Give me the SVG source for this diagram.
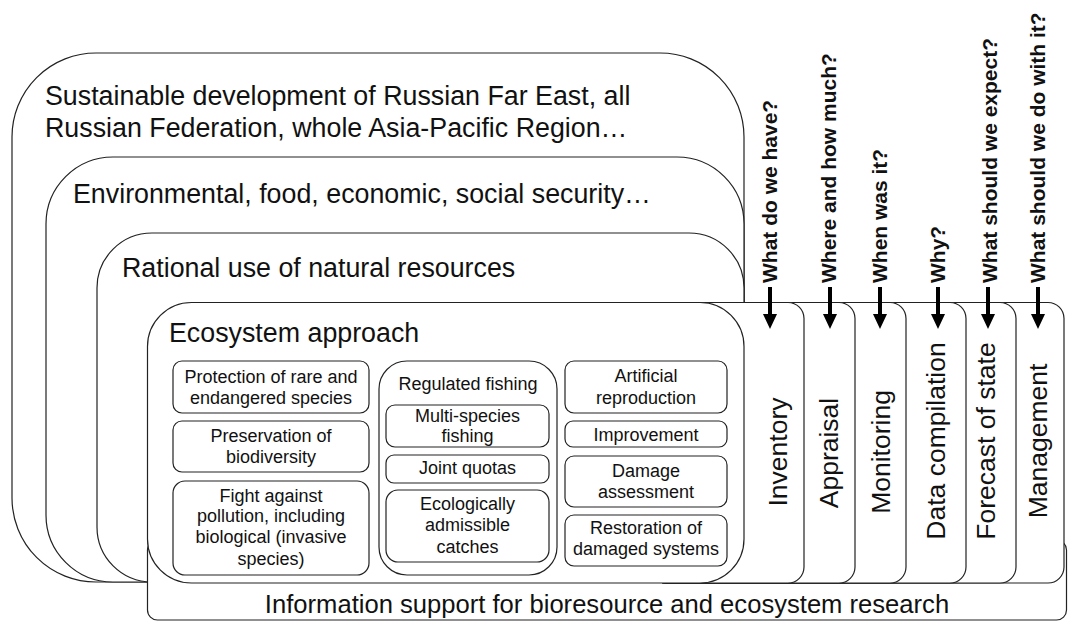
<svg xmlns="http://www.w3.org/2000/svg" width="1069" height="624" viewBox="0 0 1069 624">
<defs>
<style>
.frame{fill:#fff;stroke:#222;stroke-width:1.2}
.big{font-family:"Liberation Sans",Arial,sans-serif;font-size:26.8px;fill:#111}
.col{font-family:"Liberation Sans",Arial,sans-serif;font-size:26.5px;fill:#111;text-anchor:middle}
.q{font-family:"Liberation Sans",Arial,sans-serif;font-size:21px;font-weight:bold;fill:#111}
.sm{font-family:"Liberation Sans",Arial,sans-serif;font-size:18px;fill:#111;text-anchor:middle}
.arr{stroke:#000;stroke-width:4;fill:none;marker-end:url(#ah)}
</style>
<marker id="ah" viewBox="0 0 15 14" refX="0" refY="7" markerWidth="15" markerHeight="14" markerUnits="userSpaceOnUse" orient="auto">
<path d="M0,0 L15,7 L0,14 z" fill="#000"/>
</marker>
</defs>

<g id="level-sustainable">
<rect class="frame" x="12" y="53" width="732" height="529" rx="84" ry="84"/>
<text class="big" x="45" y="105">Sustainable development of Russian Far East, all</text>
<text class="big" x="45" y="137">Russian Federation, whole Asia-Pacific Region…</text>
</g>
<g id="level-security">
<rect class="frame" x="46" y="157" width="698" height="425" rx="67" ry="67"/>
<text class="big" x="73" y="203">Environmental, food, economic, social security…</text>
</g>
<g id="level-rational">
<rect class="frame" x="97" y="233" width="647" height="349" rx="55" ry="55"/>
<text class="big" x="122" y="277">Rational use of natural resources</text>
</g>

<g id="information-support">
<rect class="frame" x="147.5" y="540" width="919" height="80" rx="10" ry="10"/>
<text class="big" x="607" y="613" text-anchor="middle" style="font-size:25.6px">Information support for bioresource and ecosystem research</text>
</g>

<g id="col-management">
<rect class="frame" x="650" y="302.5" width="414" height="280.5" rx="16" ry="16"/>
<text class="col" transform="translate(1047,441) rotate(-90)">Management</text>
</g>
<g id="col-forecast">
<rect class="frame" x="650" y="302.5" width="366" height="280.5" rx="16" ry="16"/>
<text class="col" transform="translate(995,441) rotate(-90)">Forecast of state</text>
</g>
<g id="col-data">
<rect class="frame" x="650" y="302.5" width="316" height="280.5" rx="16" ry="16"/>
<text class="col" transform="translate(945,441) rotate(-90)">Data compilation</text>
</g>
<g id="col-monitoring">
<rect class="frame" x="650" y="302.5" width="256" height="280.5" rx="16" ry="16"/>
<text class="col" transform="translate(890,452) rotate(-90)">Monitoring</text>
</g>
<g id="col-appraisal">
<rect class="frame" x="650" y="302.5" width="205" height="280.5" rx="16" ry="16"/>
<text class="col" transform="translate(838,453) rotate(-90)">Appraisal</text>
</g>
<g id="col-inventory">
<rect class="frame" x="650" y="302.5" width="154" height="280.5" rx="16" ry="16"/>
<text class="col" transform="translate(787,452) rotate(-90)">Inventory</text>
</g>

<g id="ecosystem-approach">
<rect class="frame" x="147.5" y="302.5" width="596.5" height="280.5" rx="44" ry="44"/>
<text class="big" x="169" y="342">Ecosystem approach</text>
</g>

<g id="protection">
<rect class="frame" x="173" y="361" width="196" height="52" rx="9"/>
<text class="sm" x="271" y="383">Protection of rare and</text>
<text class="sm" x="271" y="404">endangered species</text>
</g>
<g id="preservation">
<rect class="frame" x="173" y="421" width="196" height="51" rx="9"/>
<text class="sm" x="271" y="442">Preservation of</text>
<text class="sm" x="271" y="463">biodiversity</text>
</g>
<g id="pollution">
<rect class="frame" x="173" y="481" width="196" height="94" rx="12"/>
<text class="sm" x="271" y="502">Fight against</text>
<text class="sm" x="271" y="522">pollution, including</text>
<text class="sm" x="271" y="543">biological (invasive</text>
<text class="sm" x="271" y="565">species)</text>
</g>

<g id="regulated-fishing">
<rect class="frame" x="379" y="361" width="178" height="214" rx="28"/>
<text class="sm" x="468" y="390">Regulated fishing</text>
</g>
<g id="multi-species">
<rect class="frame" x="386" y="405" width="163" height="42" rx="9"/>
<text class="sm" x="467.5" y="422">Multi-species</text>
<text class="sm" x="467.5" y="442">fishing</text>
</g>
<g id="joint-quotas">
<rect class="frame" x="386" y="455" width="163" height="28" rx="8"/>
<text class="sm" x="467.5" y="474">Joint quotas</text>
</g>
<g id="admissible-catches">
<rect class="frame" x="386" y="490" width="163" height="72" rx="12"/>
<text class="sm" x="467.5" y="510">Ecologically</text>
<text class="sm" x="467.5" y="531">admissible</text>
<text class="sm" x="467.5" y="553">catches</text>
</g>

<g id="artificial-reproduction">
<rect class="frame" x="565" y="361" width="162" height="52" rx="9"/>
<text class="sm" x="646" y="382">Artificial</text>
<text class="sm" x="646" y="404">reproduction</text>
</g>
<g id="improvement">
<rect class="frame" x="565" y="421" width="162" height="26" rx="8"/>
<text class="sm" x="646" y="441">Improvement</text>
</g>
<g id="damage-assessment">
<rect class="frame" x="565" y="456" width="162" height="51" rx="9"/>
<text class="sm" x="646" y="477">Damage</text>
<text class="sm" x="646" y="498">assessment</text>
</g>
<g id="restoration">
<rect class="frame" x="565" y="515" width="162" height="51" rx="9"/>
<text class="sm" x="646" y="534">Restoration of</text>
<text class="sm" x="646" y="555">damaged systems</text>
</g>

<g id="questions">
<text class="q" transform="translate(777,283) rotate(-90)">What do we have?</text>
<text class="q" transform="translate(836,283) rotate(-90)">Where and how much?</text>
<text class="q" transform="translate(887,283) rotate(-90)">When was it?</text>
<text class="q" transform="translate(945,283) rotate(-90)">Why?</text>
<text class="q" transform="translate(997,283) rotate(-90)">What should we expect?</text>
<text class="q" transform="translate(1045,283) rotate(-90)">What should we do with it?</text>
</g>

<g id="connectors">
<line class="arr" x1="770" y1="287" x2="770" y2="314"/>
<line class="arr" x1="830" y1="287" x2="830" y2="314"/>
<line class="arr" x1="880" y1="287" x2="880" y2="314"/>
<line class="arr" x1="938" y1="287" x2="938" y2="314"/>
<line class="arr" x1="988" y1="287" x2="988" y2="314"/>
<line class="arr" x1="1038" y1="287" x2="1038" y2="314"/>
</g>
</svg>
